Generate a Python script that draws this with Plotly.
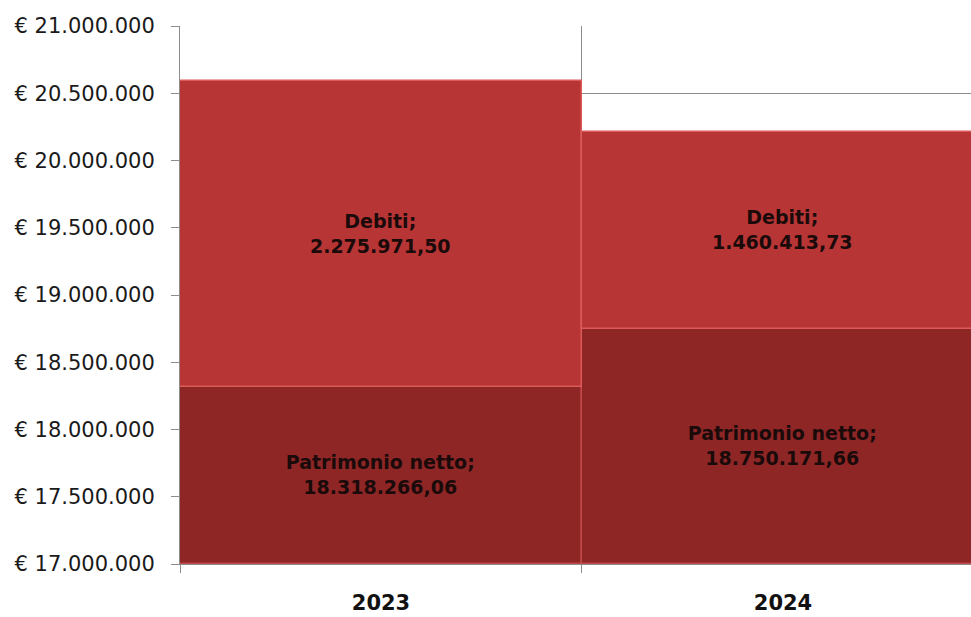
import plotly.graph_objects as go

years = ["2023", "2024"]
patrimonio_netto = [18318266.06, 18750171.66]
debiti = [2275971.50, 1460413.73]
patrimonio_labels = ["Patrimonio netto;<br>18.318.266,06", "Patrimonio netto;<br>18.750.171,66"]
debiti_labels = ["Debiti;<br>2.275.971,50", "Debiti;<br>1.460.413,73"]
y_tickvals = [17000000, 17500000, 18000000, 18500000, 19000000, 19500000, 20000000, 20500000, 21000000]
y_ticktext = ["€ 17.000.000", "€ 17.500.000", "€ 18.000.000", "€ 18.500.000", "€ 19.000.000",
              "€ 19.500.000", "€ 20.000.000", "€ 20.500.000", "€ 21.000.000"]
y_min, y_max = y_tickvals[0], y_tickvals[-1]

label_font = dict(family="DejaVu Sans", size=19, color="#1a0a0a", weight="bold")

# The visible part of the bottom segment starts at the axis minimum (truncated axis),
# so draw it from there so its label stays centred in the visible part.
fig = go.Figure()
fig.add_trace(go.Bar(
    x=years, y=[v - y_min for v in patrimonio_netto], base=[y_min] * len(years),
    name="Patrimonio netto",
    marker=dict(color="#8E2626", line=dict(color="#C04848", width=1.5)),
    text=patrimonio_labels, textposition="inside", insidetextanchor="middle",
    textangle=0, constraintext="none", textfont=label_font, hoverinfo="x+text",
))
fig.add_trace(go.Bar(
    x=years, y=debiti, base=patrimonio_netto, name="Debiti",
    marker=dict(color="#B83535", line=dict(color="#DC5A5A", width=1.5)),
    text=debiti_labels, textposition="inside", insidetextanchor="middle",
    textangle=0, constraintext="none", textfont=label_font, hoverinfo="x+text",
))

fig.update_layout(
    barmode="overlay", bargap=0, showlegend=False,
    width=971, height=617,
    margin=dict(l=180, r=0, t=26, b=53),
    plot_bgcolor="white", paper_bgcolor="white",
    xaxis=dict(
        type="category", range=[-0.5, 1.4677], automargin=False,
        tickson="boundaries", ticks="outside", ticklen=8, tickcolor="#8C8C8C",
        showgrid=True, gridcolor="#8C8C8C", gridwidth=1,
        showline=True, linecolor="#8C8C8C",
        tickfont=dict(family="DejaVu Sans", size=21, color="#111111", weight="bold"),
        ticklabelstandoff=20,
    ),
    yaxis=dict(
        range=[y_min, y_max], tickvals=y_tickvals, ticktext=y_ticktext, automargin=False,
        ticks="outside", ticklen=8, tickcolor="#8C8C8C",
        showgrid=True, gridcolor="#8C8C8C", gridwidth=1,
        showline=True, linecolor="#8C8C8C", zeroline=False,
        tickfont=dict(family="DejaVu Sans", size=21, color="#1a1a1a"),
        ticklabelstandoff=12,
    ),
)

fig.write_html("out.html", config={"displayModeBar": False},
               post_script="document.body.style.margin='0';")
